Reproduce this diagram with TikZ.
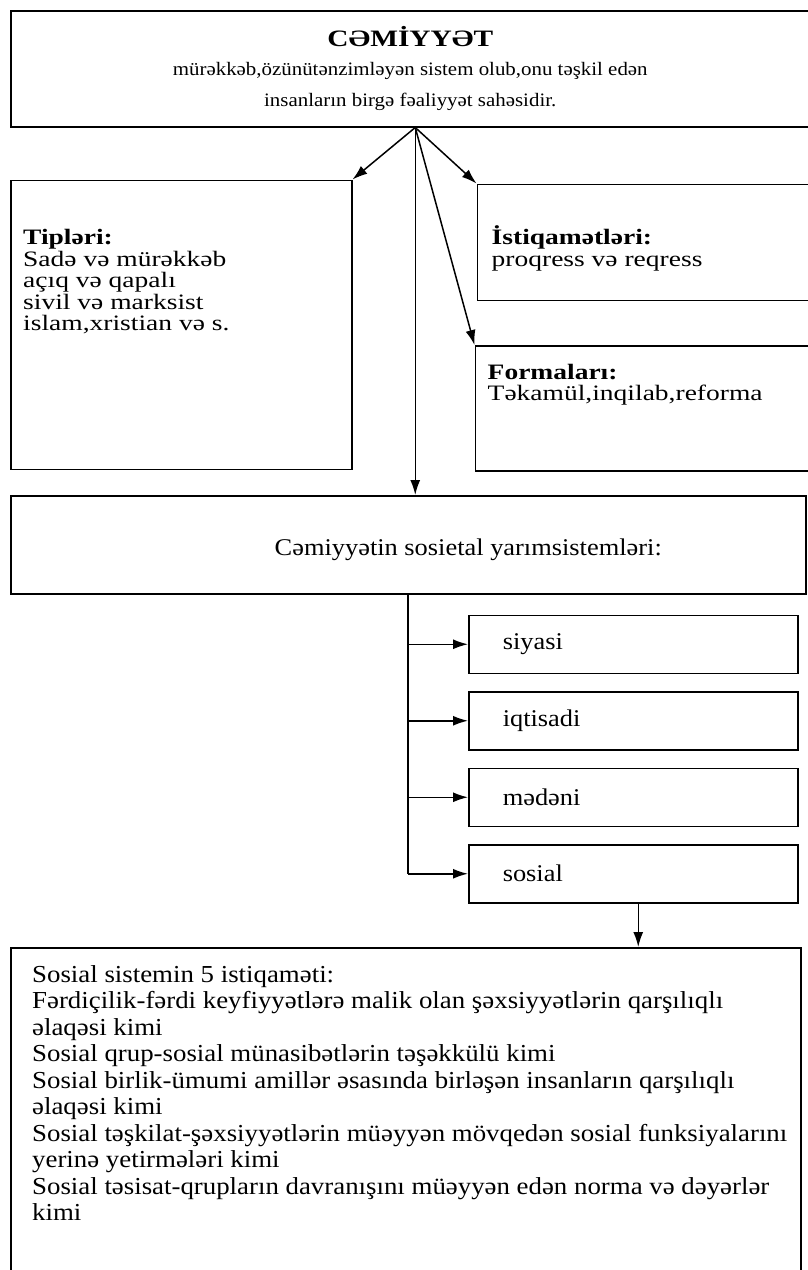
\documentclass[tikz,border=0pt]{standalone}
\usepackage{fontspec}
\setmainfont{Liberation Serif}[FakeStretch=1.1]
\newfontfamily\widefont{Liberation Serif}[FakeStretch=1.25]
\usetikzlibrary{positioning,arrows.meta}
\newcommand{\headfont}{\widefont\fontsize{23.5}{29}\selectfont\bfseries}
\newcommand{\leadfont}{\fontsize{19}{31}\selectfont}
\newcommand{\panelfont}{\widefont\fontsize{22}{21.5}\selectfont}
\newcommand{\partfont}{\fontsize{24}{26}\selectfont}
\newcommand{\listfont}{\fontsize{24.4}{26.5}\selectfont}
\tikzset{
  box/.style={draw, rectangle, line width=1.5pt, inner sep=0pt},
  part/.style={box, minimum width=329pt, minimum height=58pt, text width=261pt,
    inner xsep=34pt, align=left, font=\partfont},
  note/.style={inner sep=0pt, align=left},
  wire/.style={line width=1.5pt},
  link/.style={wire, -{Latex[length=15pt, width=10pt]}},
}

\begin{document}
\begin{tikzpicture}[x=1pt, y=1pt]
    \useasboundingbox (0,0) rectangle (807,-1270);

    % Society box
    \node[box, anchor=north west, minimum width=799pt, minimum height=116pt,
      align=center, font=\leadfont] (cem) at (10,-10)
      {{\headfont CƏMİYYƏT}\\[-2pt]
       mürəkkəb,özünütənzimləyən sistem olub,onu təşkil edən\\
       insanların birgə fəaliyyət sahəsidir.};

    % Types, directions, forms
    \node[box, minimum width=341pt, minimum height=289pt, below=52pt of cem.south west, anchor=north west] (tip) {};
    \node[box, minimum width=331pt, minimum height=116pt, right=124pt of tip.north east, anchor=north west, yshift=-4pt] (istiq) {};
    \node[box, minimum width=333pt, minimum height=125pt, below=44pt of istiq.south west, anchor=north west, xshift=-2pt] (forma) {};

    \node[note, font=\panelfont, below right=50pt and 13pt of tip.north west] (tiptxt)
      {\textbf{Tipləri:}\\Sadə və mürəkkəb\\açıq və qapalı\\sivil və marksist\\islam,xristian və s.};
    \node[note, font=\panelfont, below right=42pt and 15pt of istiq.north west] (istiqtxt)
      {\textbf{İstiqamətləri:}\\proqress və reqress};
    \node[note, font=\panelfont, below right=19pt and 13pt of forma.north west] (formatxt)
      {\textbf{Formaları:}\\Təkamül,inqilab,reforma};

    % Societal subsystems
    \node[box, minimum width=795pt, minimum height=98pt, below=25pt of tip.south west, anchor=north west] (sos) {};
    \node[font=\partfont, inner sep=0pt, below=44pt of sos.north, xshift=60pt] (sostxt) {Cəmiyyətin sosietal yarımsistemləri:};

    \node[part, below=20pt of sos.south west, anchor=north west, xshift=458pt] (siyasi) {siyasi};
    \node[part, below=17pt of siyasi] (iqtisadi) {iqtisadi};
    \node[part, below=17pt of iqtisadi] (medeni) {mədəni};
    \node[part, below=17pt of medeni] (sosial) {sosial};

    % Social system
    \node[box, anchor=north west, minimum width=790pt, minimum height=340pt] (soc) at (10,-947) {};
    \node[note, font=\listfont, below right=18pt and 22pt of soc.north west] (soctxt)
      {Sosial sistemin 5 istiqaməti:\\
       Fərdiçilik-fərdi keyfiyyətlərə malik olan şəxsiyyətlərin qarşılıqlı\\
       əlaqəsi kimi\\
       Sosial qrup-sosial münasibətlərin təşəkkülü kimi\\
       Sosial birlik-ümumi amillər əsasında birləşən insanların qarşılıqlı\\
       əlaqəsi kimi\\
       Sosial təşkilat-şəxsiyyətlərin müəyyən mövqedən sosial funksiyalarını\\
       yerinə yetirmələri kimi\\
       Sosial təsisat-qrupların davranışını müəyyən edən norma və dəyərlər\\
       kimi};

    % From society
    \coordinate (hub) at ([xshift=5pt]cem.south);
    \draw[link] (hub) -- (tip.north east);
    \draw[link] (hub) -- (istiq.north west);
    \draw[link] (hub) -- (forma.north west);
    \draw[link] (hub) -- (hub |- sos.north);

    % Subsystem branches
    \coordinate (fork) at ([xshift=-0.5pt]sos.south);
    \draw[wire] (fork) -- (fork |- sosial.west);
    \draw[link] (fork |- siyasi.west) -- (siyasi.west);
    \draw[link] (fork |- iqtisadi.west) -- (iqtisadi.west);
    \draw[link] (fork |- medeni.west) -- (medeni.west);
    \draw[link] (fork |- sosial.west) -- (sosial.west);

    % Social to list
    \draw[link] ([xshift=5pt]sosial.south) -- ([xshift=5pt]sosial.south |- soc.north);
\end{tikzpicture}
\end{document}
